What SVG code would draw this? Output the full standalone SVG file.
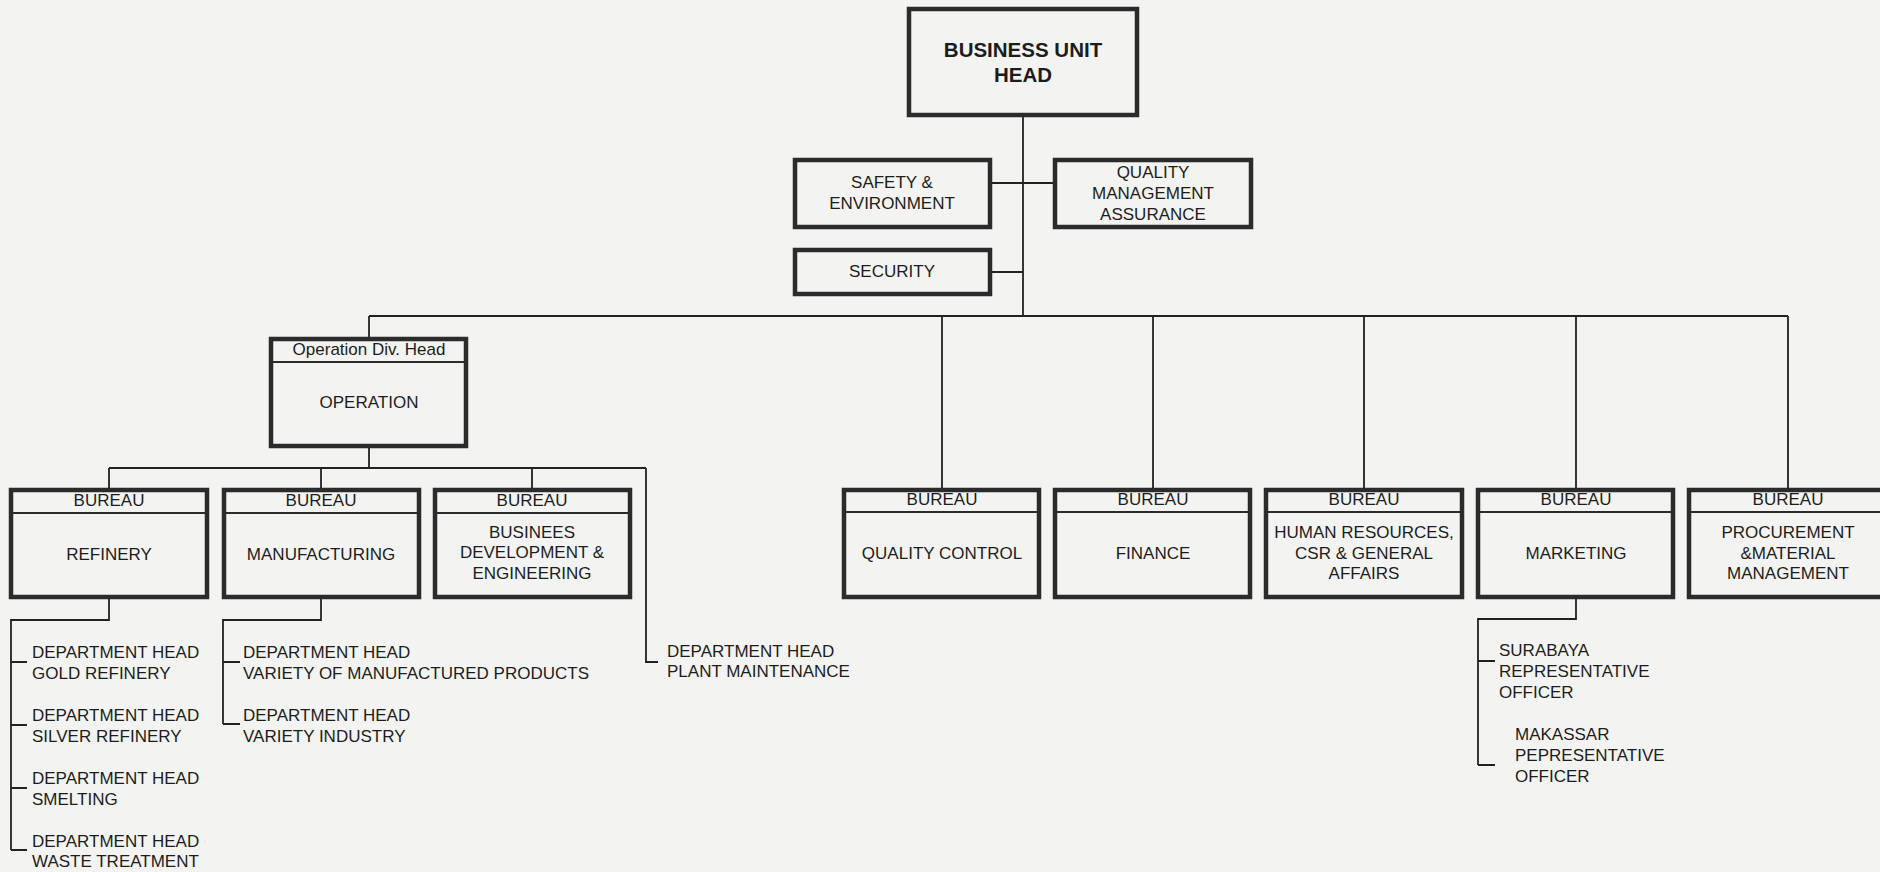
<svg xmlns="http://www.w3.org/2000/svg" width="1880" height="872" viewBox="0 0 1880 872">
<style>
.bg{fill:#f3f4f2}
.box{fill:none;stroke:#2b2b2b;stroke-width:4.5}
.div{stroke:#2b2b2b;stroke-width:1.8;fill:none}
.ln{stroke:#222;stroke-width:1.8;fill:none}
text{font-family:"Liberation Sans",Arial,sans-serif;font-size:17px;fill:#1c1c1c}
.c{text-anchor:middle}
.b{font-weight:bold;font-size:20.5px}
</style>
<rect class="bg" x="0" y="0" width="1880" height="872"/>
<g id="connectors">
<path class="ln" d="M1023,117 V316 M992,183 H1053 M992,272 H1023 M369,316 H1788"/>
<path class="ln" d="M369,316 V337 M942,316 V488 M1153,316 V488 M1364,316 V488 M1576,316 V488 M1788,316 V488"/>
<path class="ln" d="M369,448 V468 M109,468 H646 M109,468 V488 M321,468 V488 M532,468 V488 M646,468 V662 H658"/>
<path class="ln" d="M109,599 V620 H11 V850 M11,662 H27 M11,725 H27 M11,788 H27 M11,850 H27"/>
<path class="ln" d="M321,599 V620 H223 V724 M223,662 H240 M223,724 H240"/>
<path class="ln" d="M1576,598 V619 H1478 V765 M1478,661 H1495 M1478,765 H1495"/>
</g>
<g id="bu-head">
<rect class="box" x="909" y="9" width="228" height="106"/>
<text class="c b" x="1023" y="57">BUSINESS UNIT</text>
<text class="c b" x="1023" y="82">HEAD</text>
</g>
<g id="safety">
<rect class="box" x="795" y="160" width="195" height="67"/>
<text class="c" x="892" y="188">SAFETY &amp;</text>
<text class="c" x="892" y="209">ENVIRONMENT</text>
</g>
<g id="qma">
<rect class="box" x="1055" y="160" width="196" height="67"/>
<text class="c" x="1153" y="178">QUALITY</text>
<text class="c" x="1153" y="199">MANAGEMENT</text>
<text class="c" x="1153" y="220">ASSURANCE</text>
</g>
<g id="security">
<rect class="box" x="795" y="250" width="195" height="44"/>
<text class="c" x="892" y="277">SECURITY</text>
</g>
<g id="operation">
<rect class="box" x="271" y="339" width="195" height="107"/>
<line class="div" x1="271" y1="362" x2="466" y2="362"/>
<text class="c" x="369" y="355">Operation Div. Head</text>
<text class="c" x="369" y="408">OPERATION</text>
</g>
<g id="refinery">
<rect class="box" x="11" y="490" width="196" height="107"/>
<line class="div" x1="11" y1="513" x2="207" y2="513"/>
<text class="c" x="109" y="506">BUREAU</text>
<text class="c" x="109" y="560">REFINERY</text>
</g>
<g id="manufacturing">
<rect class="box" x="224" y="490" width="195" height="107"/>
<line class="div" x1="224" y1="513" x2="419" y2="513"/>
<text class="c" x="321" y="506">BUREAU</text>
<text class="c" x="321" y="560">MANUFACTURING</text>
</g>
<g id="business-dev">
<rect class="box" x="435" y="490" width="195" height="107"/>
<line class="div" x1="435" y1="513" x2="630" y2="513"/>
<text class="c" x="532" y="506">BUREAU</text>
<text class="c" x="532" y="538">BUSINEES</text>
<text class="c" x="532" y="558">DEVELOPMENT &amp;</text>
<text class="c" x="532" y="579">ENGINEERING</text>
</g>
<g id="quality-control">
<rect class="box" x="844" y="490" width="195" height="107"/>
<line class="div" x1="844" y1="512" x2="1039" y2="512"/>
<text class="c" x="942" y="505">BUREAU</text>
<text class="c" x="942" y="559">QUALITY CONTROL</text>
</g>
<g id="finance">
<rect class="box" x="1055" y="490" width="195" height="107"/>
<line class="div" x1="1055" y1="512" x2="1250" y2="512"/>
<text class="c" x="1153" y="505">BUREAU</text>
<text class="c" x="1153" y="559">FINANCE</text>
</g>
<g id="hr">
<rect class="box" x="1266" y="490" width="196" height="107"/>
<line class="div" x1="1266" y1="512" x2="1462" y2="512"/>
<text class="c" x="1364" y="505">BUREAU</text>
<text class="c" x="1364" y="538">HUMAN RESOURCES,</text>
<text class="c" x="1364" y="559">CSR &amp; GENERAL</text>
<text class="c" x="1364" y="579">AFFAIRS</text>
</g>
<g id="marketing">
<rect class="box" x="1478" y="490" width="195" height="107"/>
<line class="div" x1="1478" y1="512" x2="1673" y2="512"/>
<text class="c" x="1576" y="505">BUREAU</text>
<text class="c" x="1576" y="559">MARKETING</text>
</g>
<g id="procurement">
<rect class="box" x="1689" y="490" width="196" height="107"/>
<line class="div" x1="1689" y1="512" x2="1885" y2="512"/>
<text class="c" x="1788" y="505">BUREAU</text>
<text class="c" x="1788" y="538">PROCUREMENT</text>
<text class="c" x="1788" y="559">&amp;MATERIAL</text>
<text class="c" x="1788" y="579">MANAGEMENT</text>
</g>
<g id="dept-gold">
<text x="32" y="658">DEPARTMENT HEAD</text>
<text x="32" y="679">GOLD REFINERY</text>
</g>
<g id="dept-silver">
<text x="32" y="721">DEPARTMENT HEAD</text>
<text x="32" y="742">SILVER REFINERY</text>
</g>
<g id="dept-smelting">
<text x="32" y="784">DEPARTMENT HEAD</text>
<text x="32" y="805">SMELTING</text>
</g>
<g id="dept-waste">
<text x="32" y="847">DEPARTMENT HEAD</text>
<text x="32" y="867">WASTE TREATMENT</text>
</g>
<g id="dept-variety-products">
<text x="243" y="658">DEPARTMENT HEAD</text>
<text x="243" y="679">VARIETY OF MANUFACTURED PRODUCTS</text>
</g>
<g id="dept-variety-industry">
<text x="243" y="721">DEPARTMENT HEAD</text>
<text x="243" y="742">VARIETY INDUSTRY</text>
</g>
<g id="dept-plant">
<text x="667" y="657">DEPARTMENT HEAD</text>
<text x="667" y="677">PLANT MAINTENANCE</text>
</g>
<g id="surabaya">
<text x="1499" y="656">SURABAYA</text>
<text x="1499" y="677">REPRESENTATIVE</text>
<text x="1499" y="698">OFFICER</text>
</g>
<g id="makassar">
<text x="1515" y="740">MAKASSAR</text>
<text x="1515" y="761">PEPRESENTATIVE</text>
<text x="1515" y="782">OFFICER</text>
</g>
</svg>
